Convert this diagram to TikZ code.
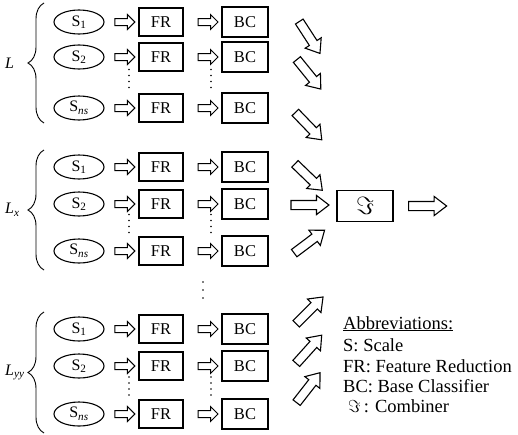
\documentclass[tikz,border=0pt]{standalone}
\usepackage{fontspec}
\setmainfont{Liberation Serif}
\usetikzlibrary{calc,shapes.geometric,shapes.arrows,decorations.pathreplacing}

\begin{document}
\begin{tikzpicture}[x=1pt,y=1pt,
    scl/.style={draw,ellipse,line width=1.1pt,minimum width=50pt,minimum height=24pt,inner sep=0pt,font=\fontsize{16}{16}\selectfont},
    blk/.style={draw,line width=1.3pt,minimum width=44pt,minimum height=28pt,inner sep=0pt,font=\fontsize{16.5}{16.5}\selectfont},
    harrow/.style={draw,single arrow,line width=1pt,inner sep=0pt,text height=6pt,text depth=0pt,single arrow head extend=4pt,minimum height=20pt},
    barrow/.style={draw,single arrow,line width=1.1pt,inner sep=0pt,text height=8pt,text depth=0pt,single arrow head extend=5pt,minimum height=38pt,single arrow tip angle=75},
    lbl/.style={anchor=west,inner sep=0pt,font=\fontsize{16}{16}\selectfont},
    abbr/.style={anchor=base west,inner sep=0pt,font=\fontsize{18.5}{18.5}\selectfont}]

    \useasboundingbox (0,0) rectangle (518,-434);

    % the three groups of scales
    \foreach \g/\ya/\yb/\yc/\ytop/\ybot/\name in {1/22/57/108/3/123/{\textit{L}},
        2/167/204/251/150/270/{\textit{L}\textsubscript{\textit{x}}},
        3/329/366/414/312/433/{\textit{L}\textsubscript{\textit{yy}}}}{
        \foreach \r/\y/\idx in {1/\ya/1,2/\yb/2,3/\yc/{\textit{ns}}}{
            \node[scl] (s\g\r) at (79,-\y) {S\textsubscript{\idx}};
            \node[blk] (fr\g\r) at (161,-\y) {FR};
            \node[blk,minimum width=46pt,minimum height=30pt] (bc\g\r) at (245,-\y) {BC};
            \node[harrow] (sa\g\r) at ($(s\g\r.east)!0.55!(fr\g\r.west)$) {};
            \node[harrow] (fa\g\r) at ($(fr\g\r.east)!0.6!(bc\g\r.west)$) {};
        }
        \foreach \x in {129,211}{
            \foreach \d in {0,...,3}{
                \fill (\x,{-(\yb+\yc)/2-5+6*\d}) circle (0.8pt);
            }
        }
        \draw[line width=0.9pt,decorate,decoration={brace,amplitude=16pt}] (44,-\ybot)--(44,-\ytop);
        \node[lbl] (lab\g) at (5,{-(\ytop+\ybot)/2}) {\name};
    }

    \foreach \y in {282,290,298}{
        \fill (203,-\y) circle (0.8pt);
    }

    % combiner
    \node[blk,minimum width=56pt,minimum height=31pt,font=\fontsize{28}{28}\selectfont] (comb) at (365,-206) {$\Im$};
    \foreach \i/\x/\y/\a in {1/308/35/-57,2/307/72/-51,3/306.5/124/-46,4/306.5/175/-44,
        5/307/205/0,6/307/243.5/37,7/307.5/312.5/45,8/307/351.5/48,9/306.5/390/52}{
        \node[barrow,rotate=\a] (in\i) at (\x,-\y) {};
    }
    \node[barrow] (out) at ($(comb.east)+(31,0)$) {};

    % abbreviations
    \node[abbr] (ab0) at (343,-329) {\underline{Abbreviations:}};
    \node[abbr] (ab1) at (343,-351) {S: Scale};
    \node[abbr] (ab2) at (343,-372) {FR: Feature Reduction};
    \node[abbr] (ab3) at (343,-392) {BC: Base Classifier};
    \node[abbr] (ab4) at (348,-412) {$\Im$\,: Combiner};
\end{tikzpicture}
\end{document}
